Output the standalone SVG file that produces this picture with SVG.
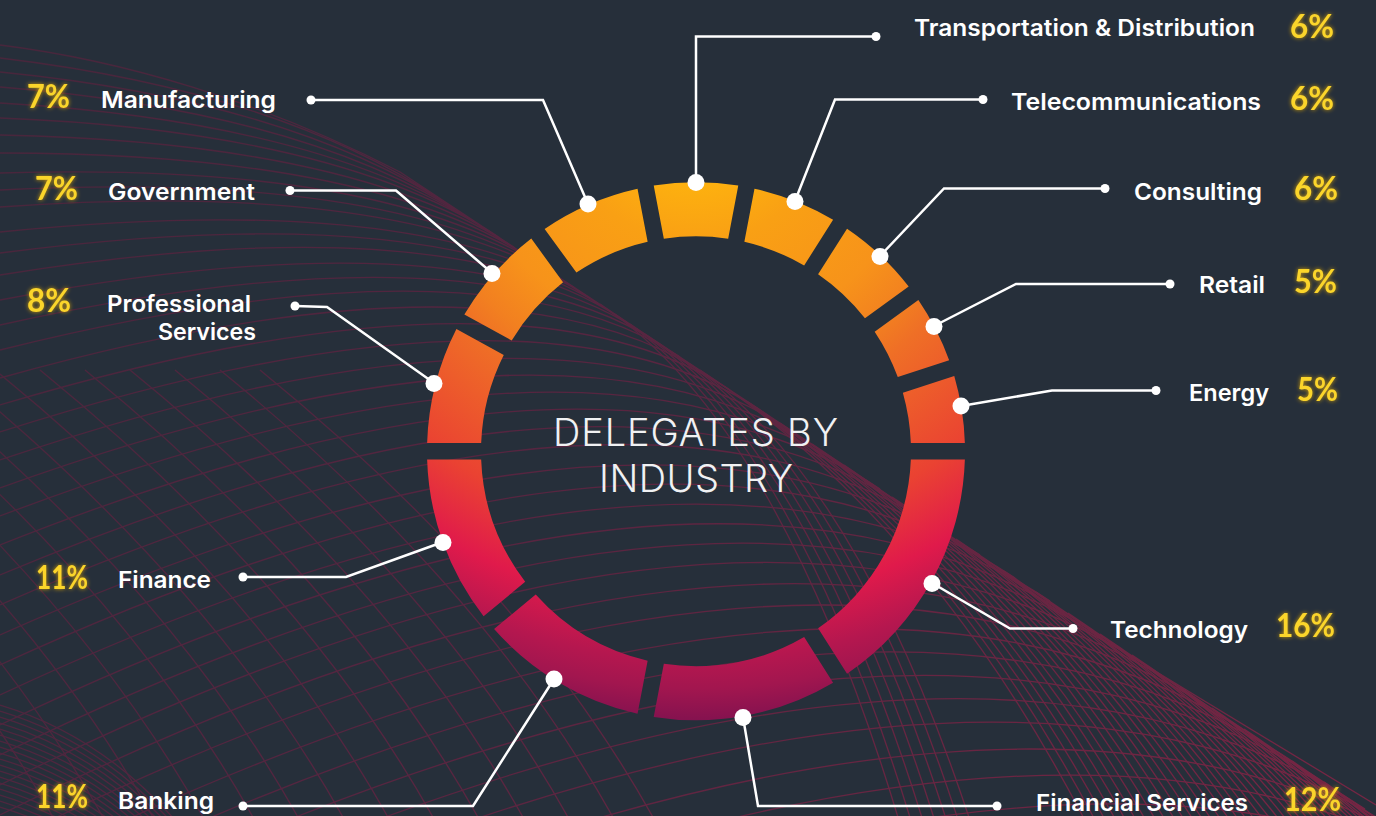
<svg xmlns="http://www.w3.org/2000/svg" width="1376" height="816" viewBox="0 0 1376 816">
<defs>
<radialGradient id="ring" gradientUnits="userSpaceOnUse" cx="696" cy="100" r="640">
<stop offset=".134" stop-color="#fdb00f"/><stop offset=".22" stop-color="#f9a014"/><stop offset=".37" stop-color="#f7931a"/><stop offset=".45" stop-color="#f28020"/><stop offset=".5" stop-color="#ef6f26"/><stop offset=".68" stop-color="#ea4232"/><stop offset=".79" stop-color="#e01a4b"/><stop offset=".875" stop-color="#b5174f"/><stop offset=".92" stop-color="#a2164f"/><stop offset=".97" stop-color="#84124f"/>
</radialGradient>
<linearGradient id="mesh" gradientUnits="userSpaceOnUse" x1="0" y1="100" x2="1300" y2="800">
<stop offset="0" stop-color="#48263c"/><stop offset=".4" stop-color="#552540"/><stop offset="1" stop-color="#752543"/>
</linearGradient>
<filter id="glow" x="-30%" y="-30%" width="160%" height="160%">
<feGaussianBlur in="SourceGraphic" stdDeviation="2.2" result="b"/>
<feFlood flood-color="#e2a90e" flood-opacity=".9"/><feComposite in2="b" operator="in" result="g"/>
<feMerge><feMergeNode in="g"/><feMergeNode in="SourceGraphic"/></feMerge>
</filter>
</defs>
<style>
.seg{fill:url(#ring)}
.lab{font-family:"Inter","Liberation Sans",sans-serif;font-weight:600;font-size:23px;fill:#fff}
.pct{font-family:"Lato","Liberation Sans",sans-serif;font-weight:700;font-size:32px;fill:#fbd52b;filter:url(#glow)}
.ttl{font-family:"Inter","Liberation Sans",sans-serif;font-weight:300;font-size:38px;fill:#f0f1f3}
.m{fill:none;stroke:url(#mesh);stroke-width:1.3}
.c{fill:none;stroke:#fff;stroke-width:2.5;stroke-linejoin:miter}
.d{fill:#fff}
</style>
<rect id="background" width="1376" height="816" fill="#262f3a"/>
<g id="mesh-lines" class="m">
<path d="M0 45C120 60 260 100 400 172L563 280L851 470L949 537L1076 623L1376 805"/>
<path d="M0 58Q277 91 440 199M0 72Q292 101 455 209M0 87Q308 112 470 219M0 103Q324 122 485 229M0 118Q338 131 500 238M0 135Q354 142 515 248M0 153Q371 153 530 258M0 173Q383 161 545 268M0 190Q397 170 560 278M0 207Q409 178 575 288M0 232Q426 189 590 298M0 253Q436 196 605 308M0 275Q447 203 620 318M0 300Q461 213 640 331M0 325Q473 221 660 344M0 350Q485 229 680 357M0 378Q500 238 705 374M0 405Q517 250 730 390M0 432Q534 261 760 410M0 460Q552 273 790 430M0 488Q568 283 820 450M0 516Q584 294 850 470M0 545Q601 305 880 489M0 575Q617 316 910 509M0 605Q633 326 945 532M0 635Q655 341 980 555M0 665Q676 354 1015 578M0 695Q696 368 1050 601M0 725Q716 381 1085 625M0 755Q736 394 1120 648M0 785Q756 407 1155 671M0 815Q782 424 1190 694M0 845Q807 441 1225 717M0 880Q838 461 1260 740M0 915Q868 481 1295 763M0 950Q898 501 1330 786M0 985Q928 521 1365 809M0 1020Q958 541 1400 832M0 1060Q993 564 1440 859M0 1100Q1027 586 1480 885M0 1145Q1066 612 1520 912M0 1190Q1105 638 1560 938"/>
<path d="M600 304q180 119 300 520M615 314q180 119 300 520M630 324q180 119 300 520M645 334q180 119 300 520M660 344q180 119 300 520M675 354q180 119 300 520M690 364q180 119 300 520M700 370q240 158 400 480M716 381q240 158 400 480M732 392q240 158 400 480M748 402q240 158 400 480M764 413q240 158 400 480M780 423q240 158 400 480M796 434q240 158 400 480M812 444q240 158 400 480M828 455q240 158 400 480M844 465q240 158 400 480M860 476q240 158 400 480M876 487q240 158 400 480M892 497q240 158 400 480M908 508q240 158 400 480M924 518q240 158 400 480M940 529q240 158 400 480M956 539q240 158 400 480M972 550q240 158 400 480M988 561q240 158 400 480M1004 571q240 158 400 480M1020 582q240 158 400 480M1036 592q240 158 400 480M1052 603q240 158 400 480M1068 613q240 158 400 480M1084 624q240 158 400 480M1100 634q240 158 400 480M1116 645q240 158 400 480M1132 655q240 158 400 480M1148 666q240 158 400 480M1164 677q240 158 400 480M1180 687q240 158 400 480M1196 698q240 158 400 480M1212 708q240 158 400 480M1228 719q240 158 400 480M1244 729q240 158 400 480M1260 740q240 158 400 480M1276 751q240 158 400 480M1292 761q240 158 400 480M1308 772q240 158 400 480M1324 782q240 158 400 480M1340 793q240 158 400 480"/>
<path d="M-340 370q270 220 400 460M-290 370q270 220 400 460M-240 370q270 220 400 460M-190 370q270 220 400 460M-140 370q270 220 400 460M-95 370q270 220 400 460M-50 370q270 220 400 460M-5 370q270 220 400 460M40 370q270 220 400 460M85 370q270 220 400 460M130 370q270 220 400 460M175 370q270 220 400 460M220 370q270 220 400 460M260 370q270 220 400 460"/>
<path d="M0 705q100 30 175 115M0 711q100 30 175 115M0 717q100 30 175 115M0 723q100 30 175 115M0 729q100 30 175 115M0 735q100 30 175 115M0 741q100 30 175 115M0 747q100 30 175 115M0 753q100 30 175 115M0 759q100 30 175 115M0 765q100 30 175 115M0 771q100 30 175 115M0 777q100 30 175 115M0 783q100 30 175 115M0 789q100 30 175 115M0 795q100 30 175 115M0 801q100 30 175 115M0 807q100 30 175 115"/>
</g>
<g id="energy"><path class="seg" d="M964.87 443A269 269 0 0 0 954.26 376.01L902.87 392.71A215 215 0 0 1 910.84 443Z"/><text class="lab" x="1189" y="400.5" textLength="80" lengthAdjust="spacingAndGlyphs">Energy</text><text class="pct" x="1297" y="401" textLength="41" lengthAdjust="spacingAndGlyphs">5%</text></g>
<g id="retail"><path class="seg" d="M949.16 360.31A269 269 0 0 0 918.37 299.88L874.66 331.64A215 215 0 0 1 897.77 377.01Z"/><text class="lab" x="1199" y="292.5" textLength="66" lengthAdjust="spacingAndGlyphs">Retail</text><text class="pct" x="1294" y="293" textLength="43" lengthAdjust="spacingAndGlyphs">5%</text></g>
<g id="consulting"><path class="seg" d="M908.67 286.54A269 269 0 0 0 847.04 228.65L818.09 274.27A215 215 0 0 1 864.96 318.3Z"/><text class="lab" x="1134" y="199.5" textLength="128" lengthAdjust="spacingAndGlyphs">Consulting</text><text class="pct" x="1294" y="199.5" textLength="44" lengthAdjust="spacingAndGlyphs">6%</text></g>
<g id="telecommunications"><path class="seg" d="M833.1 219.81A269 269 0 0 0 754.48 188.69L744.36 241.77A215 215 0 0 1 804.15 265.43Z"/><text class="lab" x="1011" y="109.5" textLength="250" lengthAdjust="spacingAndGlyphs">Telecommunications</text><text class="pct" x="1290" y="109.5" textLength="44" lengthAdjust="spacingAndGlyphs">6%</text></g>
<g id="transportation"><path class="seg" d="M738.28 185.59A269 269 0 0 0 653.72 185.59L663.84 238.67A215 215 0 0 1 728.16 238.67Z"/><text class="lab" x="914" y="36" textLength="341" lengthAdjust="spacingAndGlyphs">Transportation &amp; Distribution</text><text class="pct" x="1290" y="37.5" textLength="44" lengthAdjust="spacingAndGlyphs">6%</text></g>
<g id="manufacturing"><path class="seg" d="M637.52 188.69A269 269 0 0 0 544.63 228.88L576.39 272.59A215 215 0 0 1 647.64 241.77Z"/><text class="lab" x="101" y="107.5" textLength="175" lengthAdjust="spacingAndGlyphs">Manufacturing</text><text class="pct" x="27" y="107.5" textLength="43" lengthAdjust="spacingAndGlyphs">7%</text></g>
<g id="government"><path class="seg" d="M531.29 238.58A269 269 0 0 0 464.36 314.49L511.7 340.52A215 215 0 0 1 563.05 282.29Z"/><text class="lab" x="108" y="199.5" textLength="147" lengthAdjust="spacingAndGlyphs">Government</text><text class="pct" x="35" y="200" textLength="43" lengthAdjust="spacingAndGlyphs">7%</text></g>
<g id="professional-services"><path class="seg" d="M456.42 328.95A269 269 0 0 0 427.13 443L481.16 443A215 215 0 0 1 503.76 354.98Z"/><text class="lab" x="107" y="311.5" textLength="144" lengthAdjust="spacingAndGlyphs">Professional</text><text class="lab" x="158" y="339.5" textLength="98" lengthAdjust="spacingAndGlyphs">Services</text><text class="pct" x="27" y="312" textLength="44" lengthAdjust="spacingAndGlyphs">8%</text></g>
<g id="finance"><path class="seg" d="M427.13 459.5A269 269 0 0 0 483.57 616.27L525.2 581.83A215 215 0 0 1 481.16 459.5Z"/><text class="lab" x="118" y="587.5" textLength="93" lengthAdjust="spacingAndGlyphs">Finance</text><text class="pct" x="36" y="588.5" textLength="52" lengthAdjust="spacingAndGlyphs">11%</text></g>
<g id="banking"><path class="seg" d="M494.09 628.99A269 269 0 0 0 637.52 713.81L647.64 660.73A215 215 0 0 1 535.72 594.55Z"/><text class="lab" x="118" y="808.5" textLength="96" lengthAdjust="spacingAndGlyphs">Banking</text><text class="pct" x="36" y="808" textLength="52" lengthAdjust="spacingAndGlyphs">11%</text></g>
<g id="financial-services"><path class="seg" d="M653.72 716.91A269 269 0 0 0 833.1 682.69L804.15 637.07A215 215 0 0 1 663.84 663.83Z"/><text class="lab" x="1036" y="810.5" textLength="212" lengthAdjust="spacingAndGlyphs">Financial Services</text><text class="pct" x="1284" y="811" textLength="57" lengthAdjust="spacingAndGlyphs">12%</text></g>
<g id="technology"><path class="seg" d="M847.04 673.85A269 269 0 0 0 964.87 459.5L910.84 459.5A215 215 0 0 1 818.09 628.23Z"/><text class="lab" x="1110" y="637.5" textLength="138" lengthAdjust="spacingAndGlyphs">Technology</text><text class="pct" x="1276" y="637" textLength="59" lengthAdjust="spacingAndGlyphs">16%</text></g>
<g id="title"><text class="ttl" x="553" y="446" textLength="285">DELEGATES BY</text><text class="ttl" x="599" y="492" textLength="194">INDUSTRY</text></g>
<g id="connectors">
<path class="c" d="M876 36.5H696V182"/><circle class="d" cx="876" cy="36.5" r="4.5"/><circle class="d" cx="696" cy="182.5" r="8.5"/>
<path class="c" d="M983 99.5H835L795 201"/><circle class="d" cx="983" cy="99.5" r="4.5"/><circle class="d" cx="795" cy="201.5" r="8.5"/>
<path class="c" d="M1105 188.5H944L880 256"/><circle class="d" cx="1105" cy="188.5" r="4.5"/><circle class="d" cx="880" cy="256.5" r="8.5"/>
<path class="c" d="M1170 284H1016L934 326"/><circle class="d" cx="1170" cy="284" r="4.5"/><circle class="d" cx="934" cy="326.5" r="8.5"/>
<path class="c" d="M1156 390.5H1052L961 406"/><circle class="d" cx="1156" cy="390.5" r="4.5"/><circle class="d" cx="961" cy="406" r="8.5"/>
<path class="c" d="M1073 628.5H1010L932 583"/><circle class="d" cx="1073" cy="628.5" r="4.5"/><circle class="d" cx="932" cy="583.5" r="8.5"/>
<path class="c" d="M997 806H758L743 717"/><circle class="d" cx="997" cy="806" r="4.5"/><circle class="d" cx="743" cy="717.5" r="8.5"/>
<path class="c" d="M243 806H473L554 679"/><circle class="d" cx="243" cy="806" r="4.5"/><circle class="d" cx="554" cy="679" r="8.5"/>
<path class="c" d="M243 577H346L443 542"/><circle class="d" cx="243" cy="577" r="4.5"/><circle class="d" cx="443" cy="542.5" r="8.5"/>
<path class="c" d="M295 306L327 307L434 383"/><circle class="d" cx="295" cy="306" r="4.5"/><circle class="d" cx="434" cy="383.5" r="8.5"/>
<path class="c" d="M290 190.5H396L492 273"/><circle class="d" cx="290" cy="190.5" r="4.5"/><circle class="d" cx="492" cy="273.5" r="8.5"/>
<path class="c" d="M311 100H543L588 204"/><circle class="d" cx="311" cy="100" r="4.5"/><circle class="d" cx="588" cy="204" r="8.5"/>
</g>
</svg>
